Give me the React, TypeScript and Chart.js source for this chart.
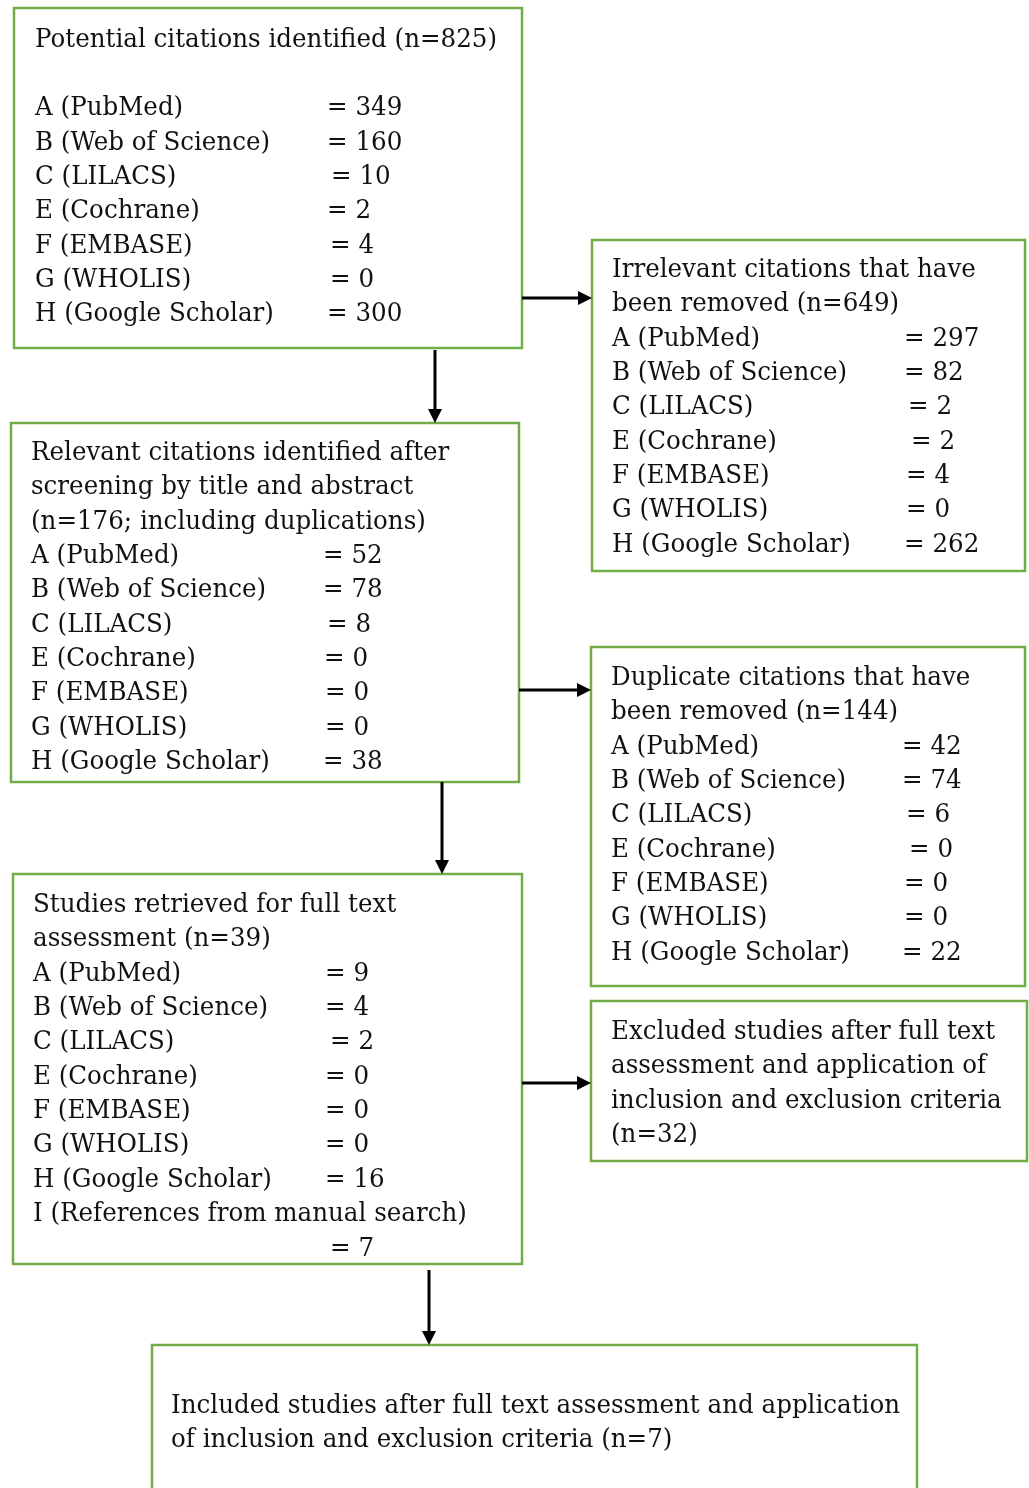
import React, { useEffect, useRef } from "react";
import { Chart, registerables } from "chart.js";

Chart.register(...registerables);

// ---------- data ----------
const SOURCES = [
  "A (PubMed)",
  "B (Web of Science)",
  "C (LILACS)",
  "E (Cochrane)",
  "F (EMBASE)",
  "G (WHOLIS)",
  "H (Google Scholar)",
];
const IDENTIFIED = [349, 160, 10, 2, 4, 0, 300];
const IRRELEVANT = [297, 82, 2, 2, 4, 0, 262];
const RELEVANT = [52, 78, 8, 0, 0, 0, 38];
const DUPLICATES = [42, 74, 6, 0, 0, 0, 22];
const RETRIEVED = [9, 4, 2, 0, 0, 0, 16];
const MANUAL_LABEL = "I (References from manual search)";
const MANUAL_COUNT = 7;
// totals as printed in the diagram
const TOTALS = { identified: 825, irrelevant: 649, relevant: 176, duplicates: 144, retrieved: 39, excluded: 32, included: 7 };

// ---------- layout (positions / styles) ----------
const W = 1029;
const H = 1488;
const LINE = 34.35;
const FONT_FAMILY = '"DejaVu Serif", "Liberation Serif", serif';
const FONT_SIZE = 26;
const GREEN = "#70AD47";

type Row = { label: string; value?: string; vx?: number };
type Box = {
  x0: number; y0: number; x1: number; y1: number;
  tx: number; base: number;
  header: string[]; headerGap?: number;
  rows: Row[];
};

function sourceRows(values: number[], vxs: number[]): Row[] {
  return SOURCES.map((s, i) => ({ label: s, value: "= " + values[i], vx: vxs[i] }));
}

const BOXES: Box[] = [
  {
    x0: 14, y0: 8, x1: 522, y1: 348, tx: 35, base: 46.5,
    header: [`Potential citations identified (n=${TOTALS.identified})`], headerGap: 1,
    rows: sourceRows(IDENTIFIED, [327, 327, 331, 327, 330, 330, 327]),
  },
  {
    x0: 592, y0: 240, x1: 1025, y1: 571, tx: 612, base: 277,
    header: ["Irrelevant citations that have", `been removed (n=${TOTALS.irrelevant})`],
    rows: sourceRows(IRRELEVANT, [904, 904, 908, 911, 906, 906, 904]),
  },
  {
    x0: 11, y0: 423, x1: 519, y1: 782, tx: 31, base: 460,
    header: [
      "Relevant citations identified after",
      "screening by title and abstract",
      `(n=${TOTALS.relevant}; including duplications)`,
    ],
    rows: sourceRows(RELEVANT, [323, 323, 327, 324, 325, 325, 323]),
  },
  {
    x0: 591, y0: 647, x1: 1025, y1: 986, tx: 611, base: 685,
    header: ["Duplicate citations that have", `been removed (n=${TOTALS.duplicates})`],
    rows: sourceRows(DUPLICATES, [902, 902, 906, 909, 904, 904, 902]),
  },
  {
    x0: 13, y0: 874, x1: 522, y1: 1264, tx: 33, base: 912,
    header: ["Studies retrieved for full text", `assessment (n=${TOTALS.retrieved})`],
    rows: [
      ...sourceRows(RETRIEVED, [325, 325, 330, 325, 325, 325, 325]),
      { label: MANUAL_LABEL },
      { label: "", value: "= " + MANUAL_COUNT, vx: 330 },
    ],
  },
  {
    x0: 591, y0: 1001, x1: 1027, y1: 1161, tx: 611, base: 1039,
    header: [
      "Excluded studies after full text",
      "assessment and application of",
      "inclusion and exclusion criteria",
      `(n=${TOTALS.excluded})`,
    ],
    rows: [],
  },
  {
    x0: 152, y0: 1345, x1: 917, y1: 1510, tx: 171, base: 1413,
    header: [
      "Included studies after full text assessment and application",
      `of inclusion and exclusion criteria (n=${TOTALS.included})`,
    ],
    rows: [],
  },
];

// arrows: [x1, y1, x2, y2]
const ARROWS: [number, number, number, number][] = [
  [522, 298, 592, 298],
  [435, 350, 435, 423],
  [519, 690, 591, 690],
  [442, 782, 442, 874],
  [522, 1083, 591, 1083],
  [429, 1270, 429, 1345],
];

const flowPlugin = {
  id: "flow",
  beforeDraw(chart: any) {
    const ctx = chart.ctx;
    ctx.save();
    ctx.fillStyle = "#ffffff";
    ctx.fillRect(0, 0, chart.width, chart.height);
    ctx.restore();
  },
  afterDraw(chart: any) {
    const ctx: CanvasRenderingContext2D = chart.ctx;
    const xs = chart.scales.x;
    const ys = chart.scales.y;
    const X = (v: number) => xs.getPixelForValue(v);
    const Y = (v: number) => ys.getPixelForValue(v);
    ctx.save();
    ctx.font = `${FONT_SIZE}px ${FONT_FAMILY}`;
    const refW = ctx.measureText(BOXES[0].header[0]).width;
    const fx = (497 - 35) / refW;

    const text = (s: string, x: number, y: number) => {
      ctx.save();
      ctx.translate(X(x), Y(y));
      ctx.scale(fx, 1);
      ctx.fillText(s, 0, 0);
      ctx.restore();
    };

    // boxes
    for (const b of BOXES) {
      ctx.strokeStyle = GREEN;
      ctx.lineWidth = 2.5;
      ctx.strokeRect(X(b.x0), Y(b.y0), X(b.x1) - X(b.x0), Y(b.y1) - Y(b.y0));
      ctx.fillStyle = "#111111";
      ctx.textBaseline = "alphabetic";
      ctx.textAlign = "left";
      let i = 0;
      for (const h of b.header) {
        text(h, b.tx, b.base + i * LINE);
        i++;
      }
      i += b.headerGap || 0;
      for (const r of b.rows) {
        const y = b.base + i * LINE;
        if (r.label) text(r.label, b.tx, y);
        if (r.value) text(r.value, r.vx as number, y);
        i++;
      }
    }

    // arrows
    ctx.strokeStyle = "#000000";
    ctx.fillStyle = "#000000";
    ctx.lineWidth = 3;
    const HL = 14;
    const HW = 7;
    for (const [x1, y1, x2, y2] of ARROWS) {
      const px1 = X(x1), py1 = Y(y1), px2 = X(x2), py2 = Y(y2);
      const ang = Math.atan2(py2 - py1, px2 - px1);
      const bx = px2 - HL * Math.cos(ang);
      const by = py2 - HL * Math.sin(ang);
      ctx.beginPath();
      ctx.moveTo(px1, py1);
      ctx.lineTo(bx, by);
      ctx.stroke();
      ctx.beginPath();
      ctx.moveTo(px2, py2);
      ctx.lineTo(bx + HW * Math.sin(ang), by - HW * Math.cos(ang));
      ctx.lineTo(bx - HW * Math.sin(ang), by + HW * Math.cos(ang));
      ctx.closePath();
      ctx.fill();
    }
    ctx.restore();
  },
};

export default function App() {
  const ref = useRef<HTMLCanvasElement | null>(null);
  useEffect(() => {
    document.body.style.margin = "0";
    const canvas = ref.current;
    if (!canvas) return;
    const chart = new Chart(canvas, {
      type: "scatter",
      data: { datasets: [{ data: [], pointRadius: 0 }] },
      options: {
        animation: false,
        responsive: false,
        devicePixelRatio: 1,
        layout: { padding: 0 },
        plugins: { legend: { display: false }, tooltip: { enabled: false } },
        scales: {
          x: { type: "linear", min: 0, max: W, display: false },
          y: { type: "linear", min: 0, max: H, reverse: true, display: false },
        },
      },
      plugins: [flowPlugin],
    });
    return () => chart.destroy();
  }, []);
  return (
    <div style={{ width: W, height: H, background: "#fff" }}>
      <canvas ref={ref} width={W} height={H} style={{ display: "block", width: W, height: H }} />
    </div>
  );
}
